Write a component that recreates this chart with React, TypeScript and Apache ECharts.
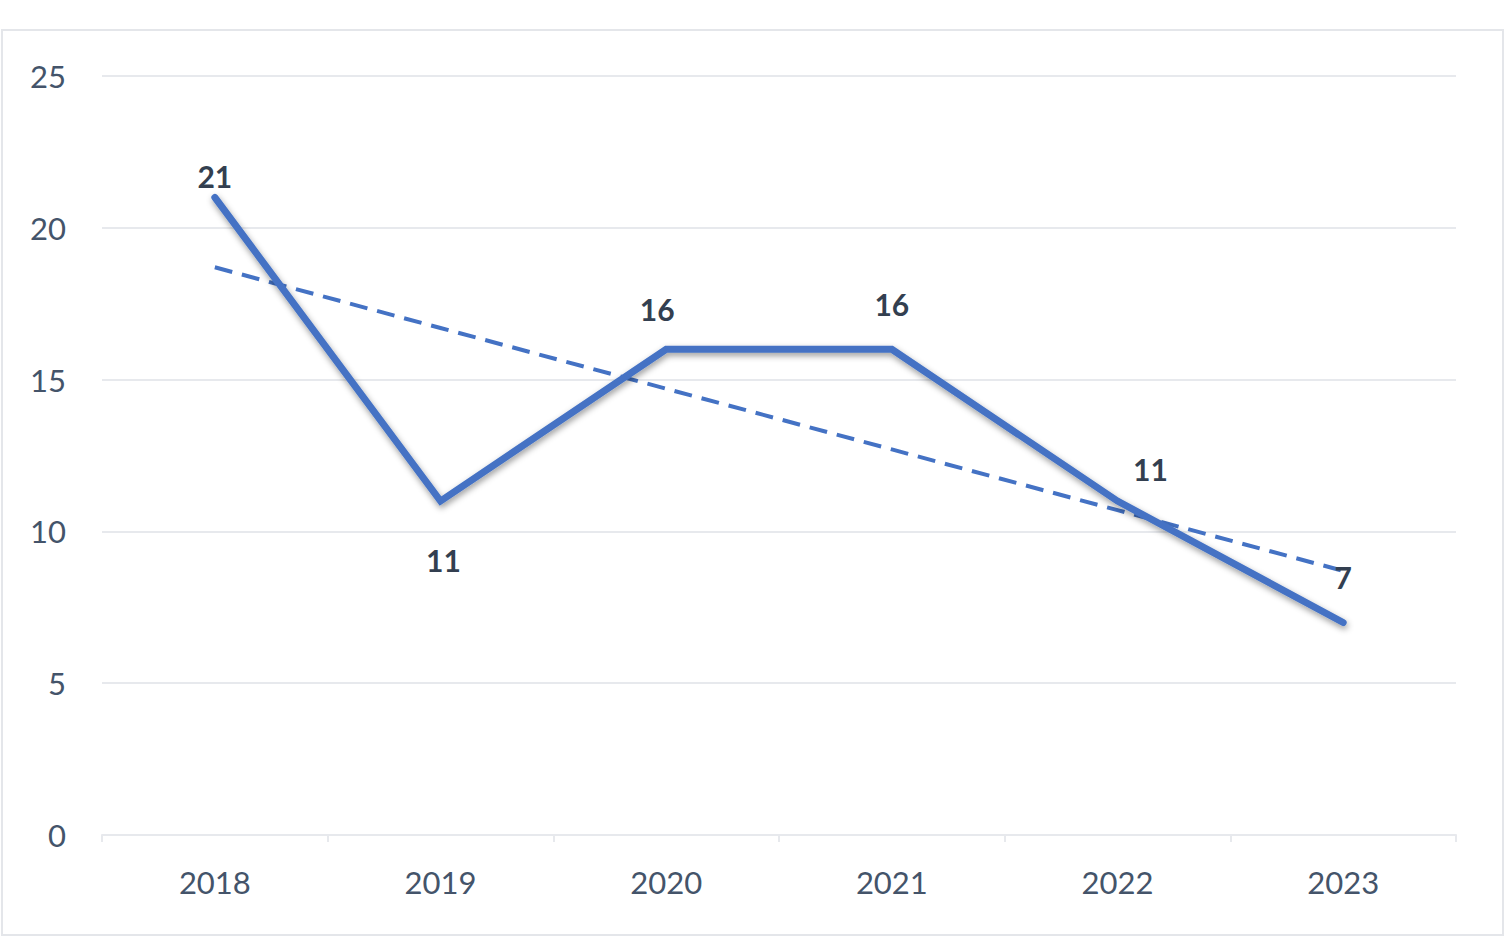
import React, { useEffect, useRef } from "react";
import * as echarts from "echarts";

const years = ["2018", "2019", "2020", "2021", "2022", "2023"];
const counts = [21, 11, 16, 16, 11, 7];
const trend = [18.7, 16.7, 14.7, 12.7, 10.7, 8.7];
const labelOffsets: [number, number][] = [
  [0, 0],
  [3, 38],
  [-9, -19],
  [0, -24],
  [33, -11],
  [0, -24],
];
const labelPositions = ["top", "bottom", "top", "top", "top", "top"];

const FONT = 'Lato, "Noto Sans", sans-serif';
const BLUE = "#4472C4";
const TEXT = "#44546A";
const GRIDC = "#e7e9ed";

export default function App() {
  const ref = useRef<HTMLDivElement>(null);
  useEffect(() => {
    if (!ref.current) return;
    const chart = echarts.init(ref.current, undefined, { renderer: "svg" });
    chart.setOption({
      animation: false,
      backgroundColor: "#ffffff",
      graphic: [
        {
          type: "rect",
          shape: { x: 2, y: 30, width: 1501, height: 905 },
          style: { fill: "none", stroke: "#e4e6ea", lineWidth: 2 },
          silent: true,
          z: -1,
        },
      ],
      grid: { left: 102, right: 54, top: 76, bottom: 101, containLabel: false },
      xAxis: {
        type: "category",
        data: years,
        boundaryGap: true,
        axisLine: { show: true, lineStyle: { color: GRIDC, width: 2 } },
        axisTick: { show: true, length: 7, lineStyle: { color: GRIDC, width: 2 } },
        axisLabel: { color: TEXT, fontFamily: FONT, fontSize: 31, margin: 31 },
        splitLine: { show: false },
      },
      yAxis: {
        type: "value",
        min: 0,
        max: 25,
        interval: 5,
        axisLine: { show: false },
        axisTick: { show: false },
        axisLabel: { color: TEXT, fontFamily: FONT, fontSize: 31, margin: 36 },
        splitLine: { show: true, lineStyle: { color: GRIDC, width: 2 } },
      },
      series: [
        {
          type: "line",
          data: trend,
          symbol: "none",
          silent: true,
          lineStyle: { color: BLUE, width: 4, type: [18, 10] },
          z: 2,
        },
        {
          type: "line",
          data: counts.map((v, i) => ({
            value: v,
            label: {
              position: labelPositions[i],
              offset: labelOffsets[i],
            },
          })),
          symbol: "circle",
          symbolSize: 2,
          itemStyle: { color: BLUE },
          lineStyle: {
            color: BLUE,
            width: 7,
            cap: "round",
            join: "miter",
            shadowColor: "rgba(0,0,0,0.4)",
            shadowBlur: 6,
            shadowOffsetY: 3,
            shadowOffsetX: 1,
          },
          label: {
            show: true,
            color: "#333F50",
            fontFamily: FONT,
            fontWeight: "bold",
            fontSize: 30,
          },
          z: 3,
        },
      ],
    });
    return () => chart.dispose();
  }, []);
  return (
    <div
      ref={ref}
      style={{ position: "fixed", left: 0, top: 0, width: 1510, height: 936 }}
    />
  );
}
